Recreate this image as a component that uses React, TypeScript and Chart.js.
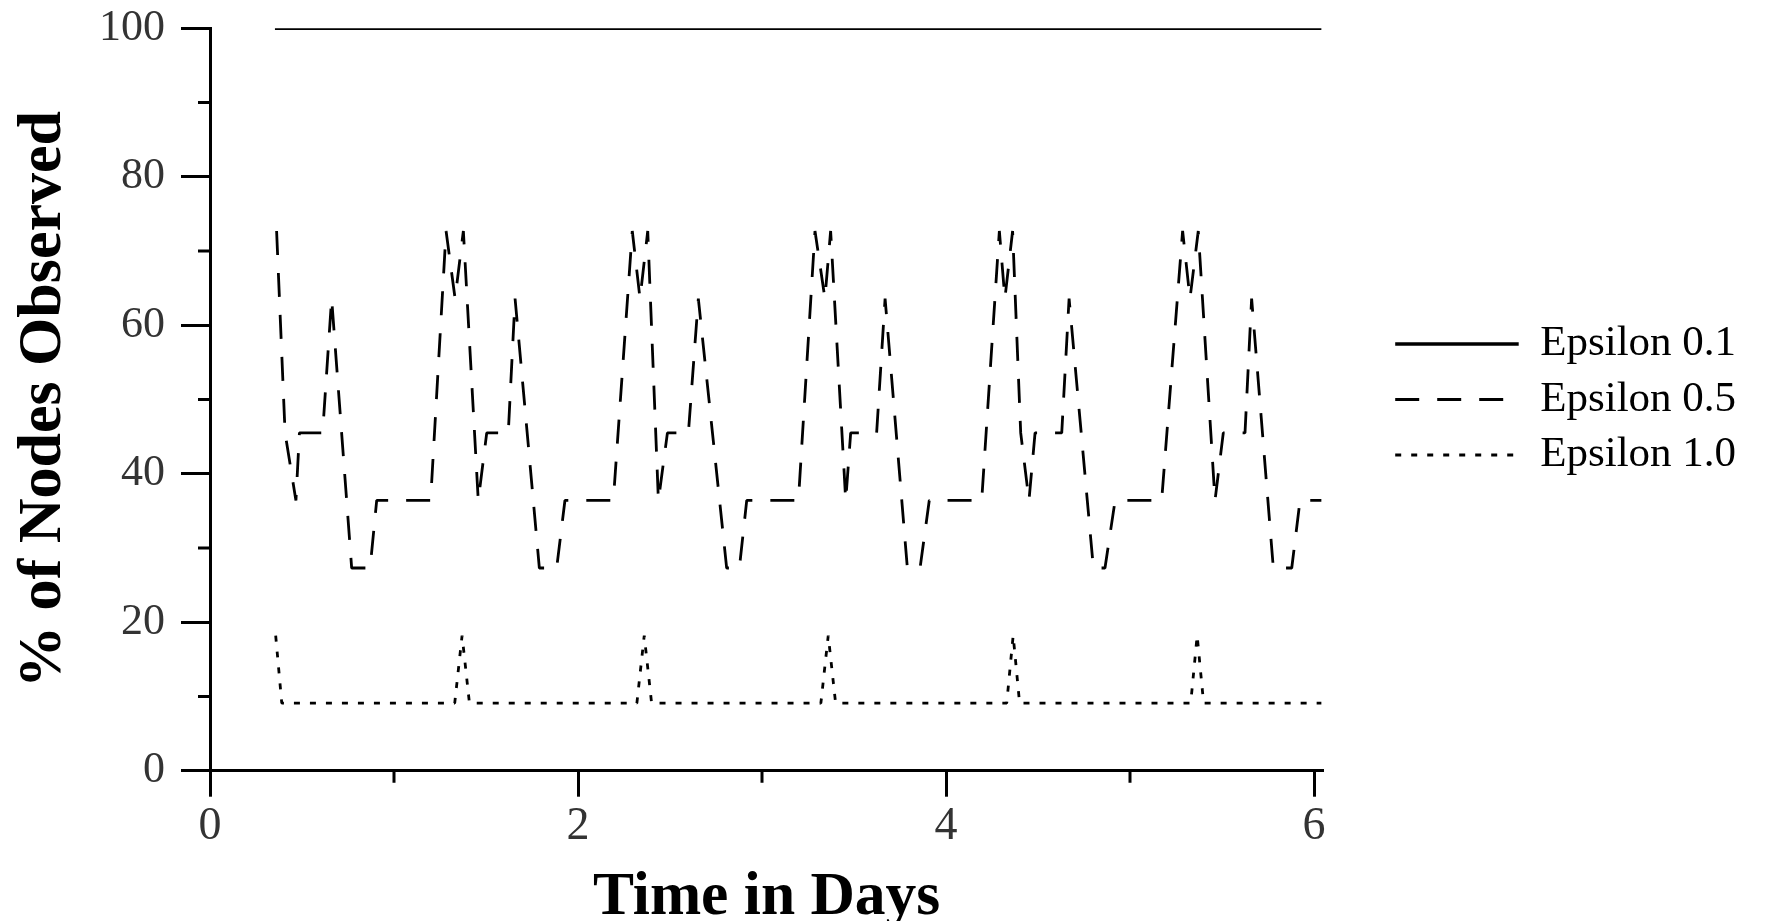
import React, { useEffect, useRef } from 'react';
import { Chart, registerables } from 'chart.js';

Chart.register(...registerables);

const SERIF = '"Liberation Serif", "Times New Roman", serif';

// Axis ticks
const xMajorTicks = [0, 2, 4, 6];
const xMinorTicks = [1, 3, 5];
const yMajorTicks = [0, 20, 40, 60, 80, 100];
const yMinorTicks = [10, 30, 50, 70, 90];

const seriesLabels = ['Epsilon 0.1', 'Epsilon 0.5', 'Epsilon 1.0'];

// Epsilon 0.1 (solid)
const eps01Days = [0.353, 6.04];
const eps01Values = [100, 100];

// Epsilon 0.5 (dashed)
const eps05Days = [
  0.362, 0.408, 0.467, 0.486, 0.612, 0.661, 0.770, 0.870, 0.906, 1.199,
  1.283, 1.332, 1.377, 1.458, 1.504, 1.621, 1.658, 1.790, 1.884, 1.929, 2.192,
  2.295, 2.337, 2.379, 2.437, 2.486, 2.600, 2.654, 2.808, 2.877, 2.917, 3.198,
  3.288, 3.342, 3.373, 3.455, 3.482, 3.623, 3.669, 3.790, 3.859, 3.909, 4.194,
  4.290, 4.320, 4.362, 4.406, 4.451, 4.484, 4.629, 4.669, 4.801, 4.864, 4.919, 5.172,
  5.286, 5.326, 5.371, 5.462, 5.507, 5.625, 5.661, 5.779, 5.879, 5.924, 6.040,
];
const eps05Values = [
  72.7, 45.5, 36.4, 45.5, 45.5, 63.6, 27.3, 27.3, 36.4, 36.4,
  72.7, 63.6, 72.7, 36.4, 45.5, 45.5, 63.6, 27.3, 27.3, 36.4, 36.4,
  72.7, 63.6, 72.7, 36.4, 45.5, 45.5, 63.6, 27.3, 27.3, 36.4, 36.4,
  72.7, 63.6, 72.7, 36.4, 45.5, 45.5, 63.6, 27.3, 27.3, 36.4, 36.4,
  72.7, 63.6, 72.7, 45.5, 36.4, 45.5, 45.5, 63.6, 27.3, 27.3, 36.4, 36.4,
  72.7, 63.6, 72.7, 36.4, 45.5, 45.5, 63.6, 27.3, 27.3, 36.4, 36.4,
];

// Epsilon 1.0 (dotted)
const eps10Days = [
  0.357, 0.390, 1.330, 1.370, 1.410, 2.320, 2.360, 2.400, 3.320, 3.360, 3.400,
  4.330, 4.365, 4.400, 5.330, 5.365, 5.400, 6.040,
];
const eps10Values = [
  18.2, 9.1, 9.1, 18.2, 9.1, 9.1, 18.2, 9.1, 9.1, 18.2, 9.1,
  9.1, 18.2, 9.1, 9.1, 18.2, 9.1, 9.1,
];

const toPoints = (xs: number[], ys: number[]) => xs.map((x, i) => ({ x, y: ys[i] }));

const CANVAS_W = 1771;
const CANVAS_H = 921;
const LEGEND_FONT = 43;
const LEGEND_PAD = 12.5;
const LEGEND_BOX = 123.5;
const GAP_W = 59.5;
const CHART_RIGHT = 1323.2;

const minorTicksPlugin = {
  id: 'minorTicks',
  afterDraw(chart: any) {
    const { ctx, chartArea, scales } = chart;
    ctx.save();
    ctx.strokeStyle = '#000';
    ctx.lineWidth = 3;
    ctx.beginPath();
    xMinorTicks.forEach((v) => {
      const px = scales.x.getPixelForValue(v);
      ctx.moveTo(px, chartArea.bottom);
      ctx.lineTo(px, chartArea.bottom + 12);
    });
    yMinorTicks.forEach((v) => {
      const py = scales.y.getPixelForValue(v);
      ctx.moveTo(chartArea.left - 12, py);
      ctx.lineTo(chartArea.left, py);
    });
    ctx.stroke();
    ctx.restore();
  },
};

export default function App() {
  const ref = useRef<HTMLCanvasElement | null>(null);

  useEffect(() => {
    if (!ref.current) return;

    // measure legend text so the legend box is exactly as wide as needed
    const mctx = document.createElement('canvas').getContext('2d') as CanvasRenderingContext2D;
    mctx.font = `${LEGEND_FONT}px ${SERIF}`;
    const maxText = Math.max(...seriesLabels.map((t) => mctx.measureText(t).width));
    const legendWidth = LEGEND_PAD + LEGEND_BOX + LEGEND_FONT / 2 + maxText + 10;
    const padRight = Math.max(0, CANVAS_W - CHART_RIGHT - GAP_W - legendWidth);

    const common = {
      borderColor: '#000',
      backgroundColor: '#000',
      pointRadius: 0,
      pointHoverRadius: 0,
      fill: false,
      tension: 0,
      borderCapStyle: 'butt',
      borderJoinStyle: 'bevel',
      xAxisID: 'x',
      yAxisID: 'y',
    };
    const chart = new Chart(ref.current, {
      type: 'line',
      data: {
        datasets: [
          { ...common, label: seriesLabels[0], data: toPoints(eps01Days, eps01Values), borderWidth: 3.4, borderDash: [] },
          { ...common, label: seriesLabels[1], data: toPoints(eps05Days, eps05Values), borderWidth: 2.8, borderDash: [24, 18] },
          { ...common, label: seriesLabels[2], data: toPoints(eps10Days, eps10Values), borderWidth: 2.8, borderDash: [6, 10] },
        ] as any,
      },
      options: {
        animation: false,
        responsive: false,
        devicePixelRatio: 1,
        events: [],
        layout: { padding: { top: 28.3, right: padRight, bottom: 0, left: 0 } },
        scales: {
          x: {
            type: 'linear',
            position: 'bottom',
            min: 0,
            max: 6.05,
            afterBuildTicks: (s: any) => {
              s.ticks = xMajorTicks.map((v) => ({ value: v }));
            },
            afterFit: (s: any) => {
              s.height = 150.3;
              s.paddingLeft = 0;
              s.paddingRight = 0;
            },
            grid: { display: true, drawOnChartArea: false, drawTicks: true, tickLength: 26, tickWidth: 3, tickColor: '#000' },
            border: { display: true, color: '#000', width: 3 },
            ticks: {
              padding: 7,
              color: '#333',
              maxRotation: 0,
              autoSkip: false,
              font: { family: SERIF, size: 46, lineHeight: 1 },
            },
            title: {
              display: true,
              text: 'Time in Days',
              color: '#000',
              font: { family: SERIF, size: 61.5, weight: 'bold', lineHeight: 0.75 },
              padding: { top: 0, bottom: 0 },
            },
          },
          y: {
            type: 'linear',
            position: 'left',
            min: 0,
            max: 100,
            afterBuildTicks: (s: any) => {
              s.ticks = yMajorTicks.map((v) => ({ value: v }));
            },
            afterFit: (s: any) => {
              s.width = 210;
              s.paddingTop = 0;
              s.paddingBottom = 0;
            },
            grid: { display: true, drawOnChartArea: false, drawTicks: true, tickLength: 29, tickWidth: 3, tickColor: '#000' },
            border: { display: true, color: '#000', width: 3 },
            ticks: {
              padding: 16,
              color: '#333',
              font: { family: SERIF, size: 44, lineHeight: 1 },
            },
            title: {
              display: true,
              text: '% of Nodes Observed',
              color: '#000',
              font: { family: SERIF, size: 62, weight: 'bold', lineHeight: 1.2 },
              padding: { top: 7, bottom: 0 },
            },
          },
          gap: {
            type: 'linear',
            axis: 'y',
            position: 'right',
            display: false,
            min: 0,
            max: 1,
            afterFit: (s: any) => {
              s.width = GAP_W;
            },
          },
        } as any,
        plugins: {
          legend: {
            display: true,
            position: 'right',
            align: 'center',
            fullSize: false,
            labels: {
              usePointStyle: true,
              pointStyle: 'line',
              pointStyleWidth: LEGEND_BOX,
              boxWidth: LEGEND_BOX,
              padding: LEGEND_PAD,
              color: '#000',
              font: { family: SERIF, size: LEGEND_FONT },
              generateLabels: (c: any) =>
                c.data.datasets.map((ds: any, i: number) => ({
                  text: ds.label,
                  fillStyle: '#000',
                  strokeStyle: '#000',
                  fontColor: '#000',
                  lineWidth: ds.borderWidth,
                  lineDash: ds.borderDash,
                  lineCap: 'butt',
                  pointStyle: 'line',
                  hidden: false,
                  datasetIndex: i,
                })),
            },
          },
          tooltip: { enabled: false },
        },
      } as any,
      plugins: [minorTicksPlugin],
    });
    return () => chart.destroy();
  }, []);

  return (
    <div
      style={{
        position: 'absolute',
        left: 0,
        top: 0,
        width: CANVAS_W,
        height: CANVAS_H,
        overflow: 'hidden',
        background: '#fff',
      }}
    >
      <canvas ref={ref} width={CANVAS_W} height={CANVAS_H} style={{ display: 'block', width: CANVAS_W, height: CANVAS_H }} />
    </div>
  );
}
